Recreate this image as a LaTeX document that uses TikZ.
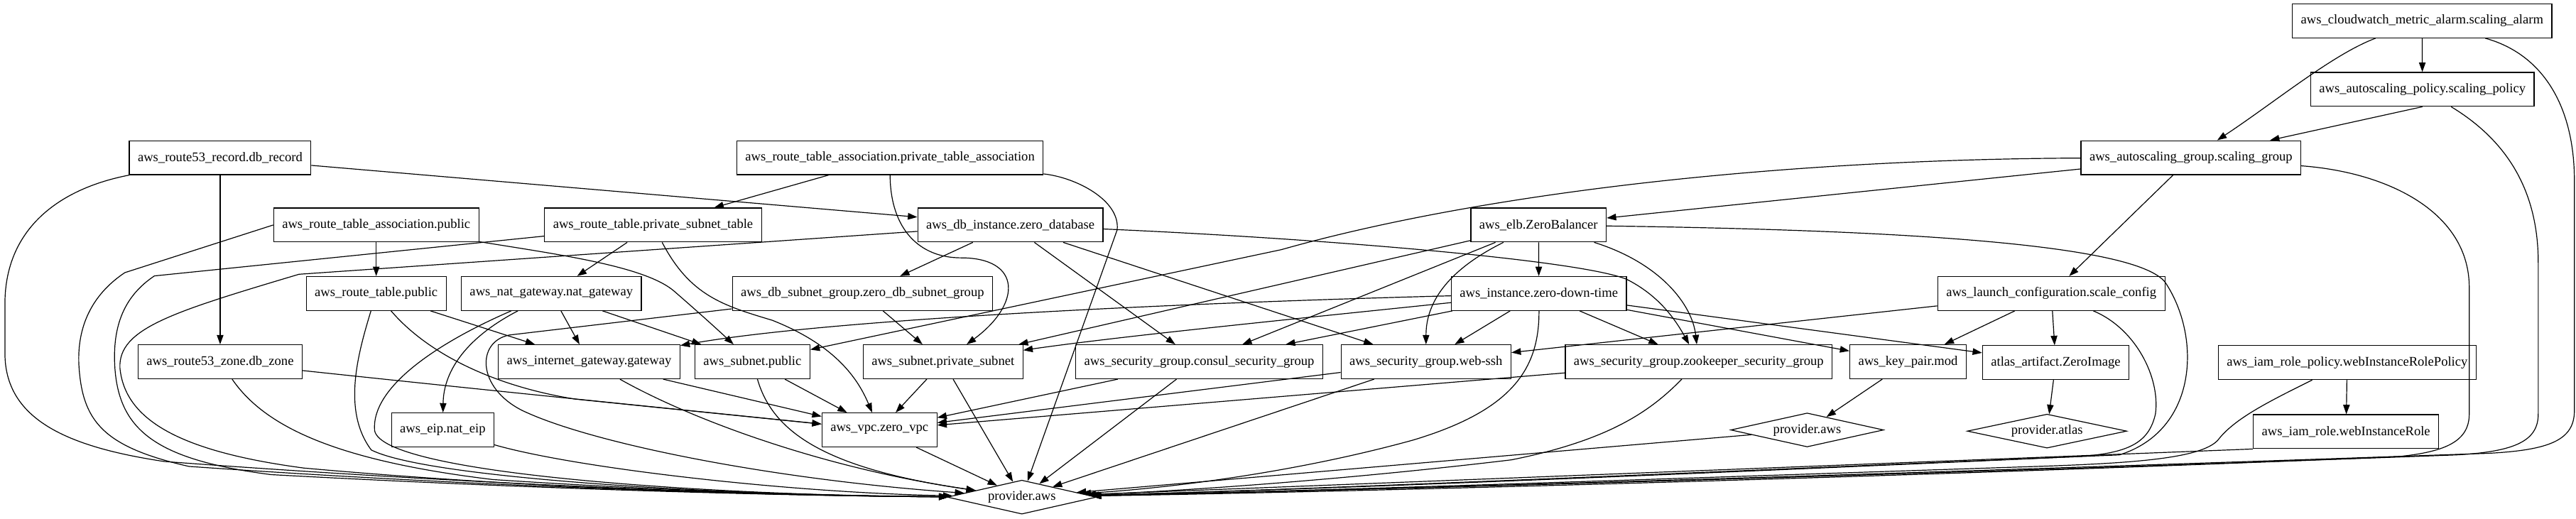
\documentclass[tikz,border=0pt]{standalone}
\usepackage{fontspec}
\setmainfont{Liberation Serif}
\usetikzlibrary{shapes.geometric, arrows.meta, positioning}

\begin{document}
\begin{tikzpicture}[
    x=0.0612cm, y=-0.0612cm,
    res/.style={rectangle, draw=black, line width=0.9pt, minimum height=36pt, inner xsep=9pt, inner ysep=0pt, font=\fontsize{14}{16}\selectfont},
    provider/.style={diamond, aspect=4.4, draw=black, line width=0.9pt, minimum width=160pt, minimum height=36pt, inner sep=0pt, font=\fontsize{14}{16}\selectfont},
    dep/.style={-{Triangle[length=10pt, width=7pt]}, line width=0.9pt}
]
\path[use as bounding box, fill=white] (0,0) rectangle (1568,316);

% === Scaling (top right) ===
\node[res] (alarm) at (1474.3,12.7) {aws\_cloudwatch\_metric\_alarm.scaling\_alarm};
\node[res] (policy) at (1474.5,54.4) {aws\_autoscaling\_policy.scaling\_policy};
\node[res] (asg) at (1333.6,96) {aws\_autoscaling\_group.scaling\_group};
\node[res] (lc) at (1248.6,178.7) {aws\_launch\_configuration.scale\_config};

% === Route 53 and route tables ===
\node[res] (r53rec) at (134,96) {aws\_route53\_record.db\_record};
\node[res] (rtapriv) at (541.7,96) {aws\_route\_table\_association.private\_table\_association};
\node[res] (rtapub) at (229,137) {aws\_route\_table\_association.public};
\node[res] (rtpriv) at (397.5,137) {aws\_route\_table.private\_subnet\_table};
\node[res] (db) at (615,137) {aws\_db\_instance.zero\_database};
\node[res] (elb) at (936.5,137) {aws\_elb.ZeroBalancer};
\node[res] (rtpub) at (229,178.7) {aws\_route\_table.public};
\node[res] (nat) at (335.6,178.7) {aws\_nat\_gateway.nat\_gateway};
\node[res] (dbsub) at (525,178.7) {aws\_db\_subnet\_group.zero\_db\_subnet\_group};
\node[res] (inst) at (936.7,178.7) {aws\_instance.zero-down-time};

% === Network and security row ===
\node[res] (r53zone) at (134,220.3) {aws\_route53\_zone.db\_zone};
\node[res] (igw) at (358.6,220.3) {aws\_internet\_gateway.gateway};
\node[res] (subpub) at (458,220.3) {aws\_subnet.public};
\node[res] (subpriv) at (574,220.3) {aws\_subnet.private\_subnet};
\node[res] (sgconsul) at (730,220.3) {aws\_security\_group.consul\_security\_group};
\node[res] (sgweb) at (868,220.3) {aws\_security\_group.web-ssh};
\node[res] (sgzk) at (1034,220.3) {aws\_security\_group.zookeeper\_security\_group};
\node[res] (key) at (1161.4,220.3) {aws\_key\_pair.mod};
\node[res] (atlas) at (1251.3,220.8) {atlas\_artifact.ZeroImage};
\node[res] (iampol) at (1428.7,220.8) {aws\_iam\_role\_policy.webInstanceRolePolicy};

% === Bottom rows ===
\node[res] (eip) at (269.5,261.8) {aws\_eip.nat\_eip};
\node[res] (vpc) at (535.3,261.8) {aws\_vpc.zero\_vpc};
\node[provider, minimum width=162pt] (provaws2) at (1100,261.8) {provider.aws};
\node[provider, minimum width=169pt] (provatlas) at (1246,262.5) {provider.atlas};
\node[res] (iamrole) at (1428,262.8) {aws\_iam\_role.webInstanceRole};
\node[provider, minimum width=158pt] (prov) at (622,302.7) {provider.aws};

% === Scaling edges ===
\draw[dep] (alarm) -- (policy);
\draw[dep] (alarm) .. controls (1420,33) and (1385,62) .. (asg);
\draw[dep] (alarm) .. controls (1548,33) and (1567,65) .. (1567,110) -- (1567,250) .. controls (1567,268) and (1552,274) .. (1515,276) .. controls (1200,287) and (850,298) .. (prov);
\draw[dep] (policy.south) -- (asg);
\draw[dep] (policy) .. controls (1525,85) and (1545,115) .. (1545,160) -- (1545,252) .. controls (1545,268) and (1532,275) .. (1495,277) .. controls (1200,288) and (850,298) .. (prov);
\draw[dep] (asg) .. controls (1455,105) and (1503,130) .. (1503,175) -- (1503,252) .. controls (1503,268) and (1490,275) .. (1460,278) .. controls (1200,289) and (850,299) .. (prov);
\draw[dep] (asg) -- (elb);
\draw[dep] (asg) -- (lc);
\draw[dep] (asg) .. controls (1080,97) and (900,118) .. (780,152) -- (subpub);

% === Route 53 edges ===
\draw[dep] (r53rec) -- (r53zone);
\draw[dep] (r53rec) -- (db);
\draw[dep] (r53rec) .. controls (35,115) and (3,140) .. (3,185) -- (3,215) .. controls (3,255) and (40,272) .. (100,281) .. controls (300,296) and (480,302) .. (prov);
\draw[dep] (r53zone) .. controls (300,238) and (420,250) .. (vpc);
\draw[dep] (r53zone) .. controls (160,258) and (200,280) .. (300,292) .. controls (420,300) and (520,302) .. (prov);

% === Route table edges ===
\draw[dep] (rtapriv) -- (rtpriv);
\draw[dep] (rtapriv) .. controls (542,140) and (560,157) .. (585,157) .. controls (622,157) and (622,185) .. (subpriv);
\draw[dep] (rtapriv) .. controls (655,108) and (682,122) .. (680,140) -- (prov);
\draw[dep] (rtapub) -- (rtpub);
\draw[dep] (rtapub) .. controls (340,155) and (392,162) .. (410,177) .. controls (425,190) and (436,200) .. (subpub);
\draw[dep] (rtapub.west) -- (76,166) .. controls (55,180) and (47,200) .. (48,222) .. controls (50,256) and (62,272) .. (115,284) .. controls (300,297) and (480,302) .. (prov);
\draw[dep] (rtpriv) -- (nat);
\draw[dep] (rtpriv) .. controls (420,180) and (440,186) .. (470,195) .. controls (508,210) and (522,230) .. (vpc);
\draw[dep] (rtpriv) -- (94,168) .. controls (76,180) and (68,198) .. (70,225) .. controls (73,262) and (95,280) .. (165,289) .. controls (330,298) and (480,302) .. (prov);
\draw[dep] (rtpub) -- (igw);
\draw[dep] (rtpub) .. controls (260,215) and (300,235) .. (350,243) -- (vpc);
\draw[dep] (rtpub) .. controls (218,215) and (208,250) .. (226,274) .. controls (262,292) and (450,302) .. (prov);
\draw[dep] (nat) .. controls (285,205) and (270,225) .. (eip);
\draw[dep] (nat) -- (igw);
\draw[dep] (nat) -- (subpub);
\draw[dep] (nat) .. controls (268,208) and (226,235) .. (228,262) .. controls (232,290) and (450,302) .. (prov);
\draw[dep] (eip) .. controls (350,285) and (480,300) .. (prov);
\draw[dep] (igw) -- (vpc);
\draw[dep] (igw) .. controls (420,255) and (500,285) .. (prov);

% === Database edges ===
\draw[dep] (db) -- (dbsub);
\draw[dep] (db) -- (sgconsul);
\draw[dep] (db) -- (sgweb);
\draw[dep] (db) .. controls (800,145) and (960,158) .. (990,170) .. controls (1010,180) and (1020,195) .. (sgzk);
\draw[dep] (db) -- (182,167) .. controls (105,190) and (72,200) .. (73,224) .. controls (76,256) and (110,275) .. (185,285) .. controls (330,298) and (480,302) .. (prov);
\draw[dep] (dbsub) -- (subpriv);
\draw[dep] (dbsub) -- (310,204) .. controls (290,208) and (290,236) .. (318,250) .. controls (360,270) and (470,292) .. (prov);

% === Load balancer and instance edges ===
\draw[dep] (elb) -- (inst);
\draw[dep] (elb) -- (subpriv);
\draw[dep] (elb) -- (sgconsul);
\draw[dep] (elb) .. controls (880,165) and (868,185) .. (sgweb);
\draw[dep] (elb) .. controls (1010,160) and (1030,185) .. (sgzk);
\draw[dep] (elb) .. controls (1150,140) and (1300,148) .. (1318,172) .. controls (1340,205) and (1338,262) .. (1290,277) .. controls (1000,289) and (800,298) .. (prov);
\draw[dep] (inst) .. controls (700,185) and (500,195) .. (igw);
\draw[dep] (inst) .. controls (780,195) and (680,205) .. (subpriv);
\draw[dep] (inst) -- (sgconsul);
\draw[dep] (inst) -- (sgweb);
\draw[dep] (inst) -- (sgzk);
\draw[dep] (inst) -- (key);
\draw[dep] (inst) -- (atlas);
\draw[dep] (inst) .. controls (937,225) and (920,250) .. (860,268) .. controls (780,290) and (700,298) .. (prov);
\draw[dep] (lc) -- (sgweb);
\draw[dep] (lc) -- (key);
\draw[dep] (lc) -- (atlas);
\draw[dep] (lc) .. controls (1300,200) and (1315,230) .. (1312,252) .. controls (1308,270) and (1295,276) .. (1265,278) .. controls (1000,290) and (800,298) .. (prov);
\draw[dep] (key) -- (provaws2);
\draw[dep] (atlas) -- (provatlas);
\draw[dep] (provaws2) -- (prov);

% === Subnets, security groups, vpc ===
\draw[dep] (sgconsul) -- (vpc);
\draw[dep] (sgconsul) -- (prov);
\draw[dep] (sgweb) -- (vpc);
\draw[dep] (sgweb) -- (prov);
\draw[dep] (sgzk) -- (vpc);
\draw[dep] (sgzk) .. controls (1005,250) and (980,268) .. (920,280) .. controls (820,292) and (720,299) .. (prov);
\draw[dep] (subpub) -- (vpc);
\draw[dep] (subpub) .. controls (470,262) and (500,285) .. (prov);
\draw[dep] (subpriv) -- (vpc);
\draw[dep] (subpriv) -- (prov);
\draw[dep] (vpc) -- (prov);

% === IAM ===
\draw[dep] (iampol) -- (iamrole);
\draw[dep] (iampol) .. controls (1380,245) and (1360,255) .. (1350,268) .. controls (1340,279) and (1300,282) .. (1240,284) .. controls (1000,292) and (800,299) .. (prov);
\draw[dep] (iamrole.south west) -- (prov);

\end{tikzpicture}
\end{document}
